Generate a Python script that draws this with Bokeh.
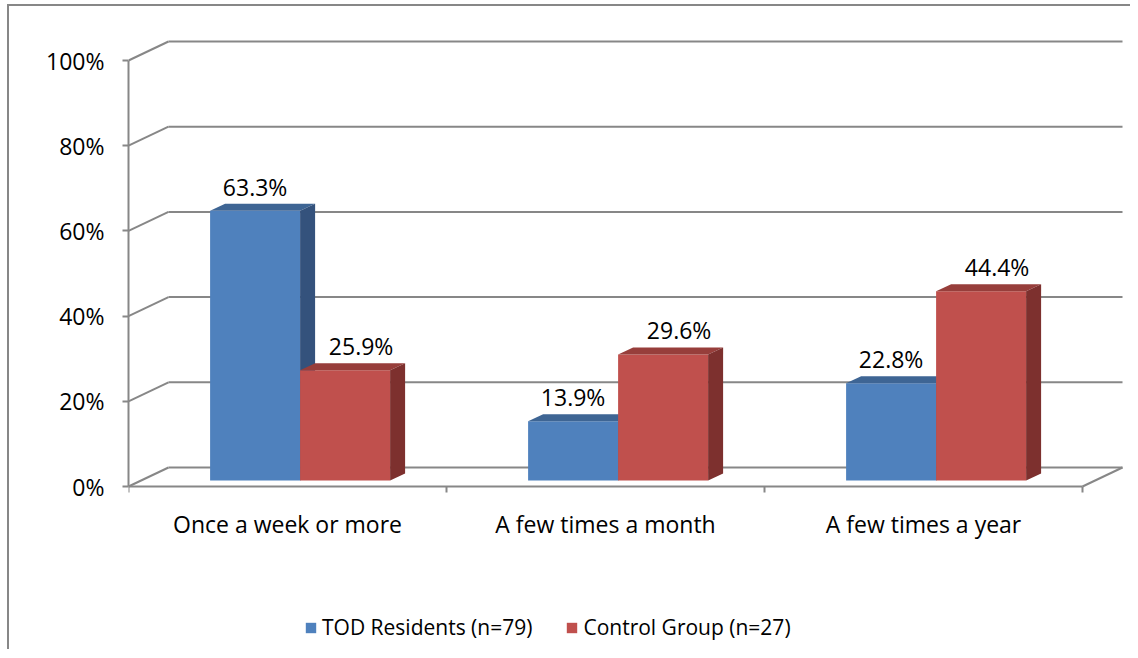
from bokeh.plotting import figure
from bokeh.models import Range1d, FixedTicker, PrintfTickFormatter, Legend, LegendItem, ColumnDataSource
from bokeh.core.properties import value
from bokeh.embed import file_html
from bokeh.resources import INLINE

# ---- data ----
categories = ["Once a week or more", "A few times a month", "A few times a year"]
tod_residents = [63.3, 13.9, 22.8]
control_group = [25.9, 29.6, 44.4]
series_names = ["TOD Residents (n=79)", "Control Group (n=27)"]
y_ticks = [0, 20, 40, 60, 80, 100]

# ---- style ----
FONT = "Open Sans"
FS = "23px"
FS_LEG = "21px"
GRID = "#878787"
PX_X = 318.0   # screen px per category
PX_Y = 4.26    # screen px per percent
FRAME_H = 615
FRAME_ABOVE_ZERO = 456   # px of frame above the 0% line
WALL_DX, WALL_DY = 40 / PX_X, 19 / PX_Y
BAR_OX, BAR_OY = 12.6 / PX_X, 6 / PX_Y
BAR_DX, BAR_DY = 15 / PX_X, 7 / PX_Y
BAR_W = 90 / PX_X
N = len(categories)

colors = {
    "front": ["#4F81BD", "#C0504D"],
    "top": ["#3E6594", "#973E3B"],
    "side": ["#34527C", "#7D302E"],
}
label_dx = [0.0, 16 / PX_X]

p = figure(frame_width=998, frame_height=FRAME_H, output_backend="svg", toolbar_location=None,
           x_range=Range1d(0, 998 / PX_X),
           y_range=Range1d(-(FRAME_H - FRAME_ABOVE_ZERO) / PX_Y, FRAME_ABOVE_ZERO / PX_Y),
           min_border_left=119, min_border_right=4, min_border_top=24, min_border_bottom=4)
p.styles = {"border-left": "2px solid #878787", "border-top": "2px solid #878787",
            "margin-left": "7px", "margin-top": "4px"}
p.grid.visible = False
p.outline_line_color = None
p.background_fill_color = "white"
p.border_fill_color = "white"

# back wall gridlines + left wall diagonals
gx0, gy0, gx1, gy1 = [], [], [], []
for t in y_ticks:
    gx0 += [0, WALL_DX]
    gy0 += [t, t + WALL_DY]
    gx1 += [WALL_DX, N + WALL_DX]
    gy1 += [t + WALL_DY, t + WALL_DY]
# floor right edge
gx0.append(N); gy0.append(0); gx1.append(N + WALL_DX); gy1.append(WALL_DY)
p.segment(gx0, gy0, gx1, gy1, line_color=GRID, line_width=2)

# bars
renderers = []
for s, vals in enumerate([tod_residents, control_group]):
    x0 = [i + 0.5 + BAR_OX - BAR_W + s * BAR_W for i in range(N)]
    x1 = [x + BAR_W for x in x0]
    bot = [BAR_OY] * N
    top = [v + BAR_OY for v in vals]
    r = p.quad(left=x0, right=x1, bottom=bot, top=top, fill_color=colors["front"][s], line_color=None)
    renderers.append(r)
    top_xs = [[a, b, b + BAR_DX, a + BAR_DX] for a, b in zip(x0, x1)]
    top_ys = [[t, t, t + BAR_DY, t + BAR_DY] for t in top]
    p.patches(top_xs, top_ys, fill_color=colors["top"][s], line_color=None)
    side_xs = [[b, b + BAR_DX, b + BAR_DX, b] for b in x1]
    side_ys = [[bo, bo + BAR_DY, t + BAR_DY, t] for bo, t in zip(bot, top)]
    p.patches(side_xs, side_ys, fill_color=colors["side"][s], line_color=None)

# data labels
for s, vals in enumerate([tod_residents, control_group]):
    src = ColumnDataSource(dict(
        x=[i + 0.5 + BAR_OX - BAR_W / 2 + s * BAR_W + label_dx[s] for i in range(N)],
        y=[v + BAR_OY for v in vals],
        t=["%.1f%%" % v for v in vals]))
    p.text(x="x", y="y", text="t", source=src, text_align="center", text_baseline="middle",
           y_offset=-24, text_font=value(FONT), text_font_size=FS, text_color="black")

# category labels under the floor
cat_src = ColumnDataSource(dict(x=[i + 0.5 for i in range(N)], y=[0] * N, t=categories))
p.text(x="x", y="y", text="t", source=cat_src, text_align="center", text_baseline="middle",
       y_offset=37, text_font=value(FONT), text_font_size=FS, text_color="black")

# y axis
ya = p.yaxis[0]
ya.ticker = FixedTicker(ticks=y_ticks)
ya.formatter = PrintfTickFormatter(format="%d%%")
ya.bounds = (0, 100)
ya.axis_line_color = GRID
ya.axis_line_width = 2
ya.major_tick_line_color = GRID
ya.major_tick_line_width = 2
ya.major_tick_out = 6
ya.major_tick_in = 0
ya.minor_tick_out = 0
ya.minor_tick_in = 0
ya.major_label_standoff = 18
ya.major_label_text_font = FONT
ya.major_label_text_font_size = FS
ya.major_label_text_color = "black"

# x axis (line and ticks, drawn at the 0% floor edge)
xa = p.xaxis[0]
xa.fixed_location = 0
xa.ticker = FixedTicker(ticks=[i + 0.5 for i in range(N)], minor_ticks=list(range(N + 1)))
xa.major_label_overrides = {i + 0.5: "" for i in range(N)}
xa.major_label_text_font_size = "0px"
xa.major_label_standoff = 0
xa.bounds = (0, N)
xa.axis_line_color = GRID
xa.axis_line_width = 2
xa.major_tick_out = 0
xa.major_tick_in = 0
xa.minor_tick_out = 6
xa.minor_tick_in = 0
xa.minor_tick_line_color = GRID
xa.minor_tick_line_width = 2

legend = Legend(items=[LegendItem(label=series_names[i], renderers=[renderers[i]]) for i in range(2)],
                orientation="horizontal", location=(176, 4))
legend.label_text_font = FONT
legend.label_text_font_size = FS_LEG
legend.label_text_color = "black"
legend.glyph_width = 13
legend.glyph_height = 13
legend.label_standoff = 5
legend.spacing = 33
legend.padding = 0
legend.margin = 0
legend.border_line_color = None
legend.background_fill_alpha = 0
p.add_layout(legend)

open("out.html", "w").write(file_html(p, INLINE))
